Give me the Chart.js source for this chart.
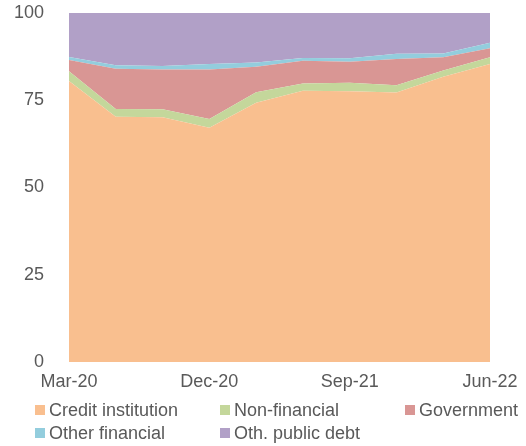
<!DOCTYPE html>
<html>
<head>
<meta charset="utf-8">
<script src="https://cdn.jsdelivr.net/npm/chart.js@4/dist/chart.umd.min.js"></script>
<style>
  html, body { margin: 0; padding: 0; background: #fff; }
  #wrap { position: relative; width: 526px; height: 446px; overflow: hidden; }
  #c { position: absolute; left: 0; top: 0; }
  .lg { position: absolute; font-family: "Liberation Sans", Arial, sans-serif; font-size: 18px; color: #595959; white-space: nowrap; line-height: 20px; }
  .lg span.box { display: inline-block; width: 10px; height: 10px; margin-right: 4px; vertical-align: 1px; }
</style>
</head>
<body>
<div id="wrap">
  <canvas id="c" width="526" height="446"></canvas>
</div>
<script>
const categories = ["Mar-20","Jun-20","Sep-20","Dec-20","Mar-21","Jun-21","Sep-21","Dec-21","Mar-22","Jun-22"];
const creditInstitution = [80.5, 70.3, 70.1, 67.1, 74.3, 77.7, 77.6, 77.2, 81.7, 85.4];
const nonFinancial      = [2.8, 2.2, 2.3, 2.5, 3.0, 2.1, 2.4, 2.1, 1.8, 1.9];
const government        = [3.2, 11.5, 11.4, 14.2, 7.3, 6.5, 6.0, 7.5, 3.8, 2.6];
const otherFinancial    = [0.9, 1.0, 1.0, 1.6, 1.2, 0.8, 1.0, 1.5, 1.1, 1.6];
const othPublicDebt     = [12.6, 15.0, 15.2, 14.6, 14.2, 12.9, 13.0, 11.7, 11.6, 8.5];
const shownTickLabels   = ["Mar-20","Dec-20","Sep-21","Jun-22"];
const yTicks            = [0, 25, 50, 75, 100];

const seriesNames  = ["Credit institution","Non-financial","Government","Other financial","Oth. public debt"];
const seriesData   = [creditInstitution, nonFinancial, government, otherFinancial, othPublicDebt];
const seriesColors = ["#F9BF8F","#C4D79B","#D99694","#93CDDD","#B1A0C7"];

const FONT = "'Liberation Sans', Arial, sans-serif";

const datasets = seriesNames.map((n, i) => ({
  label: n,
  data: seriesData[i],
  backgroundColor: seriesColors[i],
  borderColor: seriesColors[i],
  borderWidth: 0,
  pointRadius: 0,
  pointHoverRadius: 0,
  tension: 0,
  fill: i === 0 ? 'origin' : '-1'
}));

new Chart(document.getElementById('c'), {
  type: 'line',
  data: { labels: categories, datasets },
  options: {
    responsive: false,
    animation: false,
    events: [],
    layout: { padding: { left: 0, right: 36, top: 13, bottom: 54 } },
    plugins: { legend: { display: false }, tooltip: { enabled: false } },
    scales: {
      x: {
        offset: false,
        grid: { display: false, drawTicks: false },
        border: { display: false },
        ticks: {
          autoSkip: false, maxRotation: 0, padding: 9,
          color: '#595959', font: { family: FONT, size: 18 },
          callback: function(v, i) { const l = categories[i]; return shownTickLabels.includes(l) ? l : ''; }
        },
        afterFit: s => { s.height = 30; s.paddingLeft = 0; s.paddingRight = 0; }
      },
      y: {
        stacked: true,
        min: 0, max: 100,
        grid: { display: false, drawTicks: false },
        border: { display: false },
        afterBuildTicks: s => { s.ticks = yTicks.map(v => ({ value: v })); },
        ticks: { padding: 25, color: '#595959', font: { family: FONT, size: 18 } },
        afterFit: s => { s.width = 69; s.paddingTop = 0; s.paddingBottom = 0; }
      }
    }
  }
});

// legend
const legendPos = [[35,400],[220,400],[405,400],[35,423],[220,423]];
const wrap = document.getElementById('wrap');
seriesNames.forEach((n, i) => {
  const d = document.createElement('div');
  d.className = 'lg';
  d.style.left = legendPos[i][0] + 'px';
  d.style.top = legendPos[i][1] + 'px';
  d.innerHTML = '<span class="box" style="background:' + seriesColors[i] + '"></span>' + n;
  wrap.appendChild(d);
});
</script>
</body>
</html>
